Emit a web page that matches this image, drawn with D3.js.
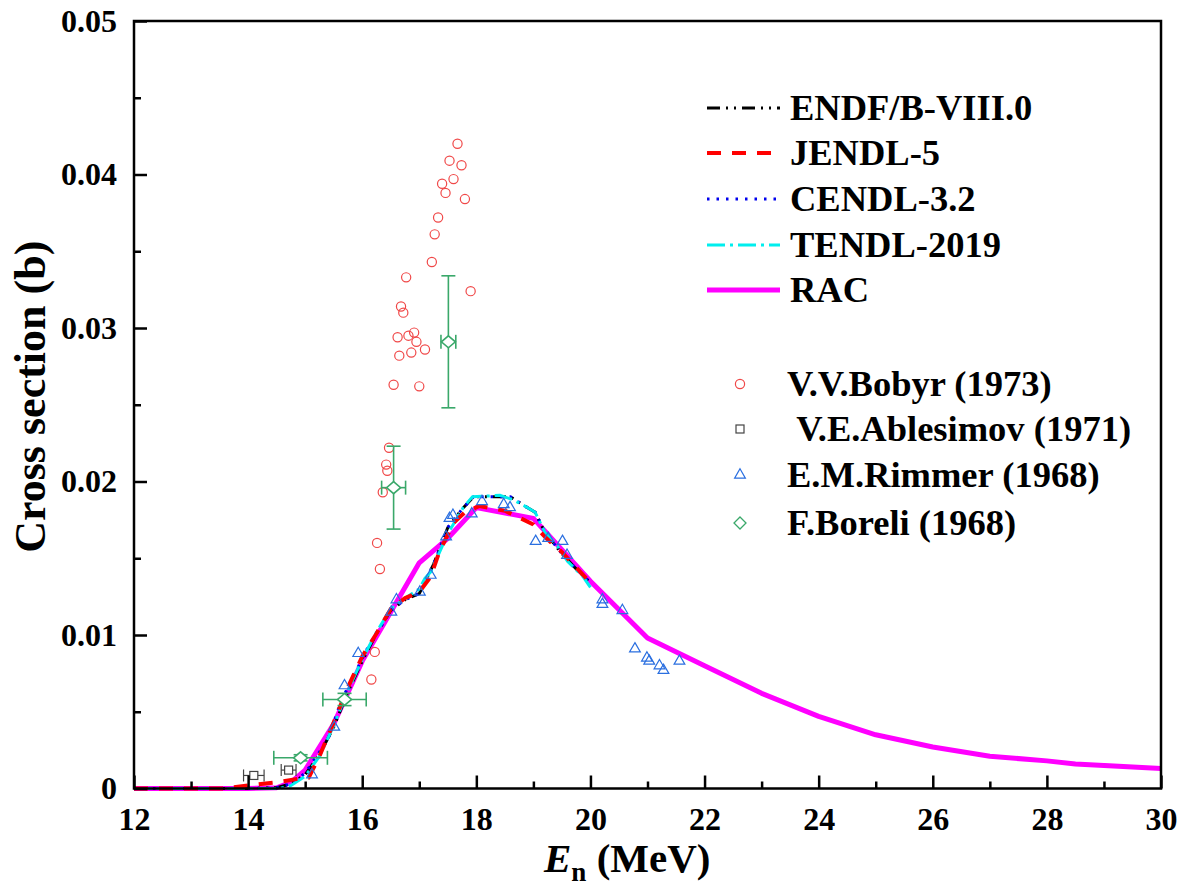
<!DOCTYPE html>
<html><head><meta charset="utf-8">
<script src="https://cdn.jsdelivr.net/npm/d3@7"></script>
<style>body{margin:0;background:#fff}svg{display:block}</style>
</head><body>
<svg id="c" width="1178" height="887"></svg>
<script>
// ---------- data ----------
const xTicks = [12,14,16,18,20,22,24,26,28,30];
const yTicks = [0,0.01,0.02,0.03,0.04,0.05];
const yTickLabels = ["0","0.01","0.02","0.03","0.04","0.05"];

const endfE = [12,14,14.5,14.75,15,15.25,15.5,15.75,16,16.25,16.5,16.75,17,17.25,17.5,17.75,17.95,18.25,18.6,18.85,19.03,19.2,19.5,19.75,20];
const endfS = [0,0,0.00005,0.0003,0.0009,0.0022,0.0040,0.0063,0.0083,0.0101,0.0116,0.0123,0.0127,0.0146,0.0170,0.0182,0.0190,0.0190,0.0190,0.0184,0.0180,0.0167,0.0153,0.0143,0.0134];
const jendlE = [12,13.6,14.0,14.5,14.9,15.06,15.25,15.5,15.75,16,16.25,16.5,16.75,17,17.2,17.35,17.6,17.8,18.05,18.5,19.0,19.2,19.5,19.75,20];
const jendlS = [0,0,0.0002,0.0004,0.00065,0.0007,0.0021,0.0043,0.0066,0.0086,0.0101,0.0117,0.0124,0.0128,0.0138,0.0154,0.0173,0.0180,0.0184,0.0181,0.0172,0.0164,0.0154,0.0144,0.0134];
const cendlE = [12,14,14.5,14.75,15,15.4,15.63,16.1,16.5,16.75,17,17.25,17.5,17.75,17.95,18.25,18.6,18.85,19.03,19.2,19.5,19.75,20];
const cendlS = [0,0,0.00005,0.0003,0.0010,0.0032,0.0057,0.0092,0.0116,0.0123,0.0127,0.0146,0.0170,0.0182,0.0190,0.0190,0.0190,0.0184,0.0180,0.0167,0.0153,0.0143,0.0134];
const tendlE = [12,14.55,14.75,15,15.25,15.5,15.75,16,16.25,16.5,16.75,17,17.1,17.2,17.5,17.77,17.93,18.42,18.65,18.85,19.03,19.2,19.42,19.6,19.87,20];
const tendlS = [0,0,0.0002,0.0008,0.0021,0.0041,0.0064,0.0084,0.0102,0.0117,0.0124,0.0130,0.0137,0.0141,0.0166,0.0183,0.0190,0.0191,0.0188,0.0184,0.0180,0.0167,0.0158,0.0148,0.0138,0.0131];
const racE = [12,13,14,14.5,14.75,15,15.25,15.5,16,16.5,17,17.5,18,19,20,21,22,23,24,25,26,27,28,28.5,30];
const racS = [0,0,0,0.00005,0.0004,0.0012,0.0027,0.0042,0.0083,0.0115,0.0147,0.0163,0.0183,0.0176,0.0135,0.0098,0.0080,0.0062,0.0047,0.0035,0.0027,0.0021,0.0018,0.0016,0.0013];

const bobyrE = [17.67,17.53,17.74,17.60,17.40,17.46,17.80,17.33,17.27,17.22,16.77,17.90,16.68,16.72,16.62,16.81,16.91,16.95,17.10,16.65,16.86,16.55,17.00,16.47,16.42,16.44,16.36,16.26,16.31,16.22,16.16];
const bobyrS = [0.0420,0.0409,0.0406,0.0397,0.0394,0.0388,0.0384,0.0372,0.0361,0.0343,0.0333,0.0324,0.0314,0.0310,0.0294,0.0295,0.0297,0.0291,0.0286,0.0282,0.0284,0.0263,0.0262,0.0222,0.0211,0.0207,0.0193,0.0160,0.0143,0.0089,0.0071];

const ablesE = [14.10,14.71];
const ablesS = [0.00085,0.0012];
const ablesDE = [0.18,0.13];

const rimmerE = [15.12,15.51,15.69,15.93,16.51,16.60,17.01,17.20,17.47,17.53,17.59,17.92,18.10,18.48,18.59,19.04,19.26,19.51,19.59,20.21,20.21,20.56,20.78,20.99,21.03,21.21,21.28,21.56];
const rimmerS = [0.0009,0.0040,0.0067,0.0088,0.0115,0.0123,0.0128,0.0139,0.0164,0.0176,0.0178,0.0179,0.0187,0.0185,0.0183,0.0161,0.0163,0.0161,0.0152,0.0123,0.0120,0.0116,0.0091,0.0085,0.0083,0.0080,0.0077,0.0083];

const borelE = [14.92,15.69,16.55,17.51];
const borelS = [0.0020,0.0058,0.0196,0.0291];
const borelDE = [0.47,0.38,0.21,0.13];
const borelDS = [0.0002,0.0004,0.0027,0.0043];

const lineNames = ["ENDF/B-VIII.0","JENDL-5","CENDL-3.2","TENDL-2019","RAC"];
const expNames = ["V.V.Bobyr (1973)","\u00a0V.E.Ablesimov (1971)","E.M.Rimmer (1968)","F.Boreli (1968)"];

// ---------- layout ----------
const svg = d3.select("#c");
const L=134, R=1161, T=21, B=788.5;
const x = d3.scaleLinear().domain([12,30]).range([L,R]);
const y = d3.scaleLinear().domain([0,0.05]).range([B,T]);
const FONT = "'Liberation Serif','Times New Roman',serif";

const styles = [
  {color:"#000000", width:3, dash:"13,6,2,6,2,6"},
  {color:"#ff0000", width:4, dash:"14,11"},
  {color:"#0000ee", width:3, dash:"2.5,7"},
  {color:"#00eeee", width:3, dash:"18,5,3,5"},
  {color:"#ff00ff", width:5, dash:null}
];
const series = [[endfE,endfS],[jendlE,jendlS],[cendlE,cendlS],[tendlE,tendlS],[racE,racS]];

const line = d3.line().x(d=>x(d[0])).y(d=>y(d[1]));
const drawOrder = [4,0,2,3,1];
drawOrder.forEach(i=>{
  const [E,S]=series[i];
  const pts = E.map((e,k)=>[e,S[k]]);
  svg.append("path").attr("d",line(pts)).attr("fill","none")
    .attr("stroke",styles[i].color).attr("stroke-width",styles[i].width)
    .attr("stroke-dasharray",styles[i].dash).attr("stroke-linejoin","round");
});

// experimental
const red="#f04848", blue="#2a6fe0", gray="#444444", green="#3aa86a";
svg.append("g").selectAll("circle").data(bobyrE.map((e,i)=>[e,bobyrS[i]])).join("circle")
  .attr("cx",d=>x(d[0])).attr("cy",d=>y(d[1])).attr("r",4.6)
  .attr("fill","none").attr("stroke",red).attr("stroke-width",1.2);
ablesE.forEach((e,i)=>{
  const g=svg.append("g").attr("stroke",gray).attr("stroke-width",1.2).attr("fill","none");
  const cx=x(e), cy=y(ablesS[i]);
  g.append("line").attr("x1",x(e-ablesDE[i])).attr("x2",x(e+ablesDE[i])).attr("y1",cy).attr("y2",cy);
  [e-ablesDE[i],e+ablesDE[i]].forEach(v=>g.append("line").attr("x1",x(v)).attr("x2",x(v)).attr("y1",cy-6).attr("y2",cy+6));
  g.append("rect").attr("x",cx-4).attr("y",cy-4).attr("width",8).attr("height",8).attr("fill","#fff");
});
const tri = d3.symbol().type(d3.symbolTriangle).size(50);
svg.append("g").selectAll("path").data(rimmerE.map((e,i)=>[e,rimmerS[i]])).join("path")
  .attr("d",tri).attr("transform",d=>`translate(${x(d[0])},${y(d[1])})`)
  .attr("fill","none").attr("stroke",blue).attr("stroke-width",1.2);
borelE.forEach((e,i)=>{
  const g=svg.append("g").attr("stroke",green).attr("stroke-width",1.6).attr("fill","none");
  const cx=x(e), cy=y(borelS[i]);
  const xl=x(e-borelDE[i]), xr=x(e+borelDE[i]);
  const yt=y(borelS[i]+borelDS[i]), yb=y(borelS[i]-borelDS[i]);
  g.append("line").attr("x1",xl).attr("x2",xr).attr("y1",cy).attr("y2",cy);
  g.append("line").attr("x1",xl).attr("x2",xl).attr("y1",cy-7).attr("y2",cy+7);
  g.append("line").attr("x1",xr).attr("x2",xr).attr("y1",cy-7).attr("y2",cy+7);
  g.append("line").attr("x1",cx).attr("x2",cx).attr("y1",yt).attr("y2",yb);
  g.append("line").attr("x1",cx-7).attr("x2",cx+7).attr("y1",yt).attr("y2",yt);
  g.append("line").attr("x1",cx-7).attr("x2",cx+7).attr("y1",yb).attr("y2",yb);
  g.append("path").attr("d",`M${cx},${cy-6}L${cx+7},${cy}L${cx},${cy+6}L${cx-7},${cy}Z`).attr("fill","#fff");
});

// ---------- axes ----------
const xAxis = d3.axisBottom(x).tickValues(xTicks).tickSize(-13).tickPadding(19).tickFormat(d3.format("d"));
const xMinor = d3.axisBottom(x).tickValues(d3.range(13,30,2)).tickSize(-7).tickFormat("");
const yAxis = d3.axisLeft(y).tickValues(yTicks).tickSize(-13).tickPadding(17).tickFormat((d,i)=>yTickLabels[i]);
const yMinor = d3.axisLeft(y).tickValues([0.005,0.015,0.025,0.035,0.045]).tickSize(-7).tickFormat("");
function styleAxis(g){
  g.select(".domain").remove();
  g.selectAll("line").attr("stroke","#000").attr("stroke-width",2.5);
  g.selectAll("text").attr("font-family",FONT).attr("font-weight","bold").attr("font-size",32).attr("fill","#000");
}
svg.append("g").attr("transform",`translate(0,${B})`).call(xAxis).call(styleAxis);
svg.append("g").attr("transform",`translate(0,${B})`).call(xMinor).call(styleAxis);
svg.append("g").attr("transform",`translate(${L},0)`).call(yAxis).call(styleAxis);
svg.append("g").attr("transform",`translate(${L},0)`).call(yMinor).call(styleAxis);
svg.append("rect").attr("x",L).attr("y",T).attr("width",R-L).attr("height",B-T)
  .attr("fill","none").attr("stroke","#000").attr("stroke-width",2.5);

// titles
svg.append("text").attr("transform",`translate(45,${(T+B)/2 - 8}) rotate(-90)`)
  .attr("text-anchor","middle").attr("font-family",FONT).attr("font-weight","bold").attr("font-size",44)
  .text("Cross section (b)");
const xt = svg.append("text").attr("x",544).attr("y",872).attr("text-anchor","start")
  .attr("font-family",FONT).attr("font-weight","bold").attr("font-size",41);
xt.append("tspan").attr("font-style","italic").text("E");
xt.append("tspan").attr("font-size",27).attr("dy",9).text("n");
xt.append("tspan").attr("dy",-9).text(" (MeV)");

// ---------- legends ----------
const legY = [108,153,199,245,290];
lineNames.forEach((n,i)=>{
  svg.append("line").attr("x1",707).attr("x2",780).attr("y1",legY[i]).attr("y2",legY[i])
    .attr("stroke",styles[i].color).attr("stroke-width",styles[i].width).attr("stroke-dasharray",styles[i].dash);
  svg.append("text").attr("x",790).attr("y",legY[i]+12).attr("font-family",FONT).attr("font-weight","bold")
    .attr("font-size",36.5).text(n);
});
const expY = [384,429,475,523];
expNames.forEach((n,i)=>{
  const cx=740, cy=expY[i];
  if(i===0) svg.append("circle").attr("cx",cx).attr("cy",cy).attr("r",4.6).attr("fill","none").attr("stroke",red).attr("stroke-width",1.2);
  if(i===1) svg.append("rect").attr("x",cx-4).attr("y",cy-4).attr("width",8).attr("height",8).attr("fill","none").attr("stroke",gray).attr("stroke-width",1.2);
  if(i===2) svg.append("path").attr("d",tri).attr("transform",`translate(${cx},${cy})`).attr("fill","none").attr("stroke",blue).attr("stroke-width",1.2);
  if(i===3) svg.append("path").attr("d",`M${cx},${cy-6}L${cx+6},${cy}L${cx},${cy+6}L${cx-6},${cy}Z`).attr("fill","none").attr("stroke",green).attr("stroke-width",1.3);
  svg.append("text").attr("x",787).attr("y",cy+12).attr("font-family",FONT).attr("font-weight","bold")
    .attr("font-size",36.5).text(n);
});
</script>
</body></html>
